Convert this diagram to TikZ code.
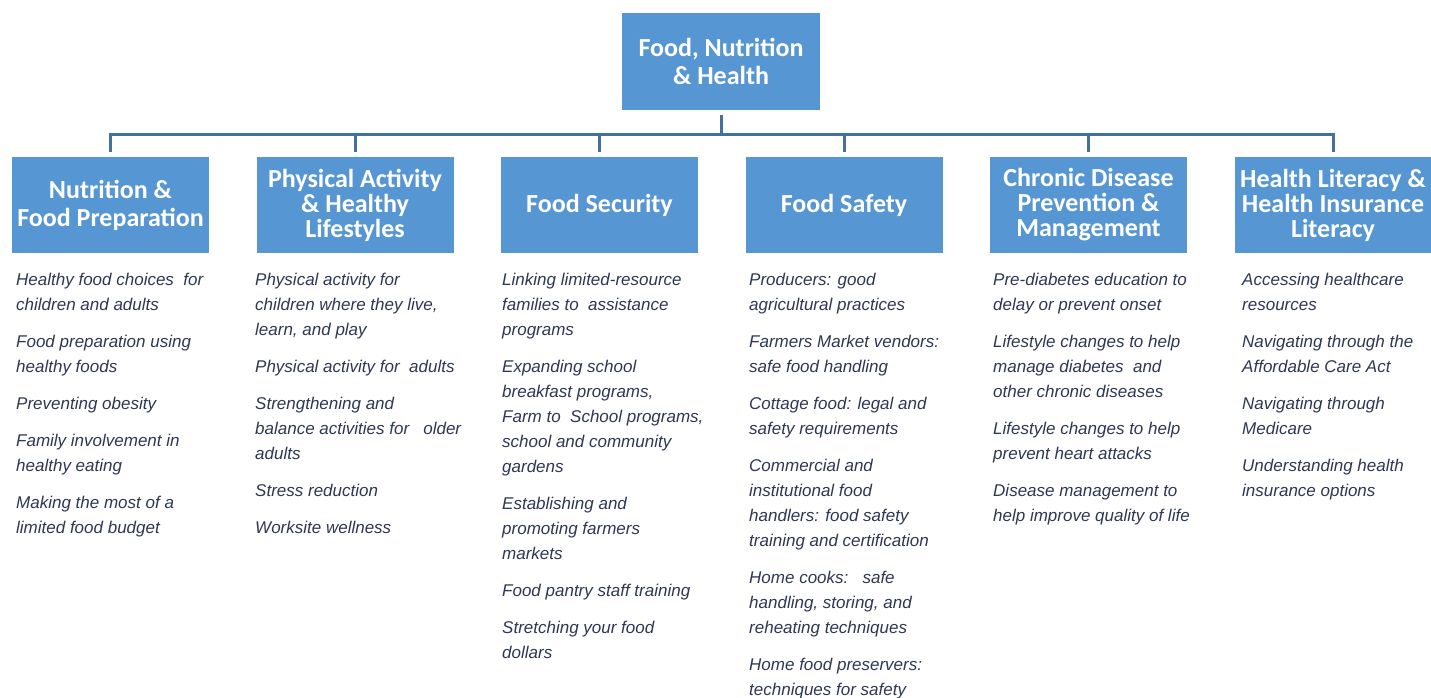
\documentclass[tikz,border=0pt]{standalone}
\usepackage{fontspec}
\newfontfamily\hfont{Carlito}
\newfontfamily\lfont{Liberation Sans}
\definecolor{boxblue}{RGB}{86,150,210}
\definecolor{linecol}{RGB}{65,113,156}
\definecolor{txtcol}{RGB}{46,56,84}
\begin{document}
\begin{tikzpicture}[x=1pt,y=-1pt,
  box/.style={fill=boxblue, minimum width=197pt, minimum height=96pt, inner sep=0pt, text=white, align=center, font=\hfont\bfseries\fontsize{26}{28}\selectfont},
  tight/.style={font=\hfont\bfseries\fontsize{26}{25}\selectfont},
  conn/.style={draw=linecol, line width=3pt},
  items/.style={anchor=north west, inner sep=0pt, align=left, text=txtcol, font=\lfont\itshape\fontsize{17}{25}\selectfont}]
\useasboundingbox (0,0) rectangle (1431,698);
\fill[white] (0,0) rectangle (1431,698);

\node[box, minimum width=198pt, minimum height=97pt] (top) at (721,61.5) {Food, Nutrition\\\& Health};

\node[box] (n1) at (110.5,205) {Nutrition \&\\Food Preparation};
\node[box, tight] (n2) at (355,205) {Physical Activity\\\& Healthy\\Lifestyles};
\node[box] (n3) at (599.5,205) {Food Security};
\node[box] (n4) at (844,205) {Food Safety};
\node[box, tight] (n5) at (1088.5,205) {Chronic Disease\\Prevention \&\\Management};
\node[box, tight] (n6) at (1333,205) {Health Literacy \&\\Health Insurance\\Literacy};

\coordinate (bus) at (721,134);
\draw[conn] ([yshift=-5pt]top.south) -- (top.south |- bus);
\draw[conn] ([yshift=5pt]n1.north) -- (n1.north |- bus) -- (n6.north |- bus) -- ([yshift=5pt]n6.north);
\foreach \n in {n2,n3,n4,n5}
  \draw[conn] (\n.north |- bus) -- ([yshift=5pt]\n.north);

\node[items] (l1) at (16,273) {Healthy food choices\ \ for\\children and adults\\[12pt]Food preparation using\\healthy foods\\[12pt]Preventing obesity\\[12pt]Family involvement in\\healthy eating\\[12pt]Making the most of a\\limited food budget};

\node[items] (l2) at (255,273) {Physical activity for\\children where they live,\\learn, and play\\[12pt]Physical activity for\ \ adults\\[12pt]Strengthening and\\balance activities for\ \ \ older\\adults\\[12pt]Stress reduction\\[12pt]Worksite wellness};

\node[items] (l3) at (502,273) {Linking limited-resource\\families to\ \ assistance\\programs\\[12pt]Expanding school\\breakfast programs,\\Farm to\ \ School programs,\\school and community\\gardens\\[12pt]Establishing and\\promoting farmers\\markets\\[12pt]Food pantry staff training\\[12pt]Stretching your food\\dollars};

\node[items] (l4) at (749,273) {Producers: good\\agricultural practices\\[12pt]Farmers Market vendors:\\safe food handling\\[12pt]Cottage food: legal and\\safety requirements\\[12pt]Commercial and\\institutional food\\handlers: food safety\\training and certification\\[12pt]Home cooks:\ \ \ safe\\handling, storing, and\\reheating techniques\\[12pt]Home food preservers:\\techniques for safety};

\node[items] (l5) at (993,273) {Pre-diabetes education to\\delay or prevent onset\\[12pt]Lifestyle changes to help\\manage diabetes\ \ and\\other chronic diseases\\[12pt]Lifestyle changes to help\\prevent heart attacks\\[12pt]Disease management to\\help improve quality of life};

\node[items] (l6) at (1242,273) {Accessing healthcare\\resources\\[12pt]Navigating through the\\Affordable Care Act\\[12pt]Navigating through\\Medicare\\[12pt]Understanding health\\insurance options};
\end{tikzpicture}
\end{document}
